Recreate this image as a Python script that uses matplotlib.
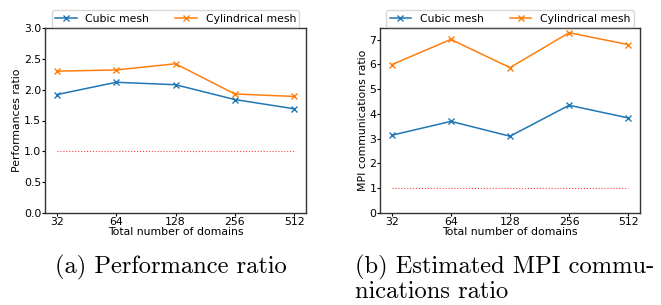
import matplotlib.pyplot as plt

domains = ['32', '64', '128', '256', '512']
perf_cubic = [1.92, 2.12, 2.08, 1.84, 1.69]
perf_cyl = [2.30, 2.32, 2.42, 1.93, 1.89]
comm_cubic = [3.14, 3.70, 3.10, 4.35, 3.84]
comm_cyl = [5.99, 7.01, 5.87, 7.28, 6.80]
baseline = [1, 1, 1, 1, 1]

fig = plt.figure(figsize=(6.61, 3.05), dpi=100)
ax1 = fig.add_axes([45 / 661, 1 - 213 / 305, 261 / 661, 185 / 305])
ax2 = fig.add_axes([380 / 661, 1 - 213 / 305, 260 / 661, 185 / 305])

x = list(range(len(domains)))


def draw(ax, cubic, cyl, ylabel):
    ax.plot(x, cubic, color='#1f77b4', marker='x', markersize=4, markeredgewidth=1,
            linewidth=1.1, label='Cubic mesh')
    ax.plot(x, cyl, color='#ff7f0e', marker='x', markersize=4, markeredgewidth=1,
            linewidth=1.1, label='Cylindrical mesh')
    ax.plot(x, baseline, color='#ff4040', linestyle=':', linewidth=0.8)
    ax.set_xticks(x)
    ax.set_xticklabels(domains)
    ax.set_xlabel('Total number of domains', fontsize=7.8, labelpad=0)
    ax.set_ylabel(ylabel, fontsize=7.8, labelpad=1.2)
    ax.tick_params(labelsize=7.8, length=2.2, pad=0.5)
    for s in ax.spines.values():
        s.set_linewidth(1.0)
        s.set_color('#333333')
    ax.legend(loc='lower center', bbox_to_anchor=(0.5, 1.0), ncol=2, fontsize=7.8,
              handlelength=2.0, columnspacing=2.4, borderpad=0.3, handletextpad=0.8,
              borderaxespad=0.1, fancybox=True, edgecolor='#cccccc')


draw(ax1, perf_cubic, perf_cyl, 'Performances ratio')
ax1.set_ylim(0, 3.0)
ax1.set_yticks([0.0, 0.5, 1.0, 1.5, 2.0, 2.5, 3.0])
draw(ax2, comm_cubic, comm_cyl, 'MPI communications ratio')
ax2.set_ylim(0, 7.47)
ax2.set_yticks(range(8))

fig.text(171 / 661, 1 - 273 / 305, '(a) Performance ratio', family='cmr10',
         fontsize=17.6, ha='center', va='baseline')
fig.text(355 / 661, 1 - 273 / 305, '(b) Estimated MPI commu-', family='cmr10',
         fontsize=17.6, ha='left', va='baseline')
fig.text(355 / 661, 1 - 298 / 305, 'nications ratio', family='cmr10',
         fontsize=17.6, ha='left', va='baseline')

fig.savefig('out.png', dpi=100)
